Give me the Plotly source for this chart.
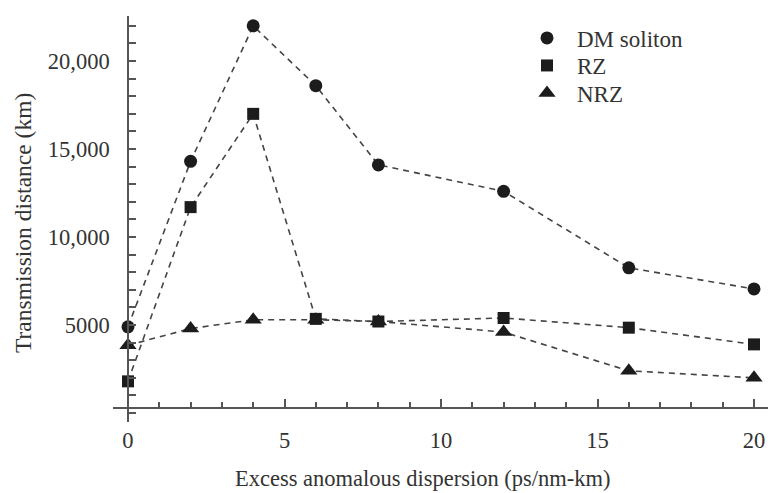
import plotly.graph_objects as go

x_vals = [0, 2, 4, 6, 8, 12, 16, 20]
dm_soliton = [4900, 14300, 22000, 18600, 14100, 12600, 8250, 7050]
rz = [1800, 11700, 17000, 5350, 5200, 5400, 4850, 3900]
nrz = [3850, 4800, 5300, 5300, 5200, 4600, 2400, 2000]

series_names = ["DM soliton", "RZ", "NRZ"]
series_values = [dm_soliton, rz, nrz]
symbols = ["circle", "square", "triangle-up"]
sizes = [13, 12, 15]

y_tickvals = [5000, 10000, 15000, 20000]
y_ticktext = ["5000", "10,000", "15,000", "20,000"]
x_tickvals = [0, 5, 10, 15, 20]
x_ticktext = ["0", "5", "10", "15", "20"]

FONT = "Liberation Serif, Times New Roman, DejaVu Serif, serif"
INK = "#1c1c1c"
AXIS = "#555555"
TXT = "#333333"
FS = 22.5

W, H = 768, 493
ml, mr, mt, mb = 113, 0, 16, 71
xr = [-0.479, 20.447]
yr = [-510, 22560]
pw, ph = W - ml - mr, H - mt - mb

legend_ids = ["legend", "legend2", "legend3"]
legend_rows_px = [38, 65.5, 93]

fig = go.Figure()
for name, vals in zip(series_names, series_values):
    fig.add_trace(go.Scatter(x=x_vals, y=vals, mode="lines", showlegend=False,
                             line=dict(color="#444444", width=1.6, dash="6px,5px")))
for name, vals, sym, sz, lg in zip(series_names, series_values, symbols, sizes, legend_ids):
    fig.add_trace(go.Scatter(x=x_vals, y=vals, mode="markers", name=name, legend=lg,
                             marker=dict(symbol=sym, size=sz, color=INK, line=dict(width=0))))

xpos = (270 - yr[0]) / (yr[1] - yr[0])
ypos = (0 - xr[0]) / (xr[1] - xr[0])

legend_layout = {}
for lg, row in zip(legend_ids, legend_rows_px):
    legend_layout[lg] = dict(x=(517 - ml) / pw, y=1 - (row - mt) / ph,
                             xanchor="left", yanchor="middle", bgcolor="rgba(0,0,0,0)",
                             font=dict(family=FONT, size=23, color=TXT),
                             itemwidth=50, itemsizing="trace")

fig.update_layout(
    width=W, height=H,
    margin=dict(l=ml, r=mr, t=mt, b=mb, autoexpand=False),
    paper_bgcolor="white", plot_bgcolor="white",
    font=dict(family=FONT, size=FS, color=TXT),
    xaxis=dict(range=xr, anchor="free", position=xpos, showgrid=False, zeroline=False,
               showline=True, linecolor=AXIS, linewidth=1.5,
               tickmode="array", tickvals=x_tickvals, ticktext=x_ticktext,
               ticks="inside", ticklen=9, tickwidth=1.5, tickcolor=AXIS,
               ticklabelstandoff=12,
               minor=dict(dtick=1, tick0=0, ticks="inside", ticklen=6, tickwidth=1.5, tickcolor=AXIS,
                          showgrid=False),
               tickfont=dict(family=FONT, size=FS, color=TXT)),
    yaxis=dict(range=yr, anchor="free", position=ypos, showgrid=False, zeroline=False,
               showline=True, linecolor=AXIS, linewidth=1.5,
               tickmode="array", tickvals=y_tickvals, ticktext=y_ticktext,
               ticks="inside", ticklen=7, tickwidth=1.5, tickcolor=AXIS,
               ticklabelstandoff=13,
               minor=dict(dtick=1000, tick0=0, ticks="inside", ticklen=7, tickwidth=1.5, tickcolor=AXIS,
                          showgrid=False),
               tickfont=dict(family=FONT, size=FS, color=TXT)),
    showlegend=True,
    annotations=[
        dict(text="Excess anomalous dispersion (ps/nm-km)", xref="paper", yref="paper",
             x=(423 - ml) / pw, y=-(478 - (H - mb)) / ph,
             xanchor="center", yanchor="middle", showarrow=False,
             font=dict(family=FONT, size=22.5, color=TXT)),
        dict(text="Transmission distance (km)", xref="paper", yref="paper",
             x=-(ml - 23) / pw, y=1 - (223 - mt) / ph,
             xanchor="center", yanchor="middle", textangle=-90, showarrow=False,
             font=dict(family=FONT, size=23.5, color=TXT)),
    ],
    **legend_layout,
)

fig.write_html("out.html", config={"displayModeBar": False},
               post_script="document.body.style.margin='0px';")
